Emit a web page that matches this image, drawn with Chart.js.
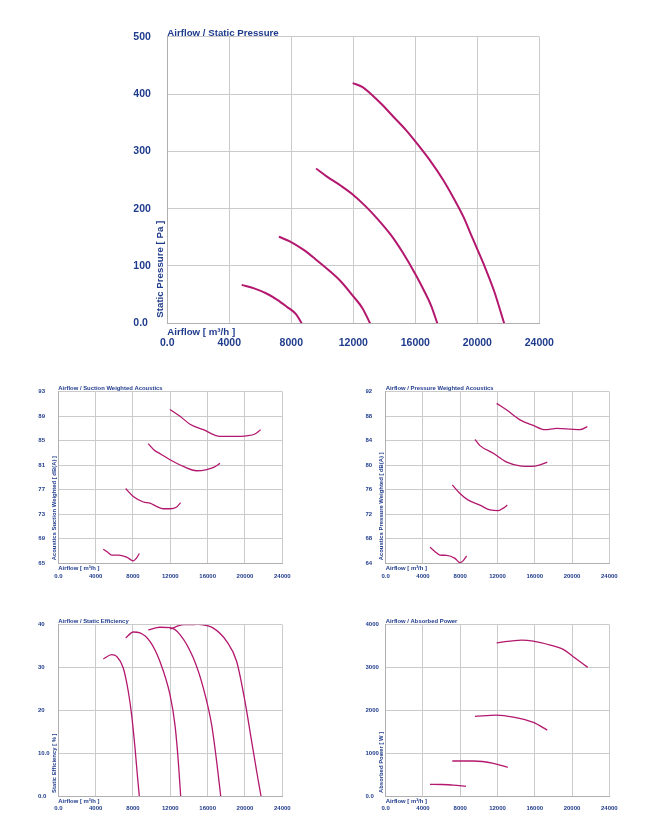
<!DOCTYPE html>
<html><head><meta charset="utf-8">
<script src="https://cdn.jsdelivr.net/npm/chart.js@4.4.1/dist/chart.umd.min.js"></script>
<style>
html,body{margin:0;padding:0;background:#fff;}
#wrap{position:relative;width:660px;height:826px;overflow:hidden;background:#fff;}
canvas{position:absolute;}
</style></head><body>
<div id="wrap">
<canvas id="cPressure" width="660" height="360" style="left:0;top:0"></canvas>
<canvas id="cSuction" width="330" height="215" style="left:0;top:370px"></canvas>
<canvas id="cPressAc" width="330" height="215" style="left:330px;top:370px"></canvas>
<canvas id="cEff" width="330" height="226" style="left:0;top:600px"></canvas>
<canvas id="cPower" width="330" height="226" style="left:330px;top:600px"></canvas>
</div>
<script>
// ---------- tick values / labels ----------
const flowTicks = [0, 4000, 8000, 12000, 16000, 20000, 24000];
const flowTickLabels = ['0.0', '4000', '8000', '12000', '16000', '20000', '24000'];
const pressureTicks = [0, 100, 200, 300, 400, 500];
const pressureTickLabels = ['0.0', '100', '200', '300', '400', '500'];
const suctionTicks = [65, 69, 73, 77, 81, 85, 89, 93];
const suctionTickLabels = ['65', '69', '73', '77', '81', '85', '89', '93'];
const pressAcTicks = [64, 68, 72, 76, 80, 84, 88, 92];
const pressAcTickLabels = ['64', '68', '72', '76', '80', '84', '88', '92'];
const effTicks = [0, 10, 20, 30, 40];
const effTickLabels = ['0.0', '10.0', '20', '30', '40'];
const powerTicks = [0, 1000, 2000, 3000, 4000];
const powerTickLabels = ['0.0', '1000', '2000', '3000', '4000'];

// ---------- Airflow / Static Pressure ----------
const spFlow1 = [4800, 5600, 6400, 7100, 7700, 8300, 8670];
const spVal1  = [67, 61, 52, 41, 29, 16, 0];
const spFlow2 = [7200, 7900, 8800, 9600, 10400, 11200, 12000, 12600, 13080];
const spVal2  = [151, 143, 128, 111, 93, 73, 47, 26, 0];
const spFlow3 = [9600, 10300, 11200, 12000, 12800, 13600, 14400, 15200, 16000, 16600, 17000, 17420];
const spVal3  = [270, 256, 240, 224, 204, 181, 155, 123, 86, 55, 32, 0];
const spFlow4 = [11960, 12600, 13100, 13800, 14600, 15400, 16100, 16900, 17800, 18500, 19100, 19700, 20400, 21100, 21730];
const spVal4  = [419, 412, 401, 383, 360, 337, 314, 286, 250, 217, 186, 148, 104, 55, 0];

// ---------- Airflow / Suction Weighted Acoustics ----------
const suFlow1 = [4820, 5300, 5720, 6430, 7330, 8040, 8350, 8680];
const suVal1  = [67.3, 66.8, 66.35, 66.35, 66.0, 65.4, 65.8, 66.6];
const suFlow2 = [7220, 8040, 9110, 9820, 10500, 11250, 11970, 12690, 13110];
const suVal2  = [77.2, 75.9, 75.0, 74.8, 74.3, 73.9, 73.9, 74.2, 74.9];
const suFlow3 = [9640, 10250, 11000, 11970, 13400, 14820, 15900, 16700, 17320];
const suVal3  = [84.5, 83.5, 82.8, 81.9, 80.8, 80.1, 80.3, 80.7, 81.3];
const suFlow4 = [11970, 13040, 14110, 15540, 17320, 18750, 20180, 21070, 21680];
const suVal4  = [90.1, 89.0, 87.7, 86.8, 85.7, 85.7, 85.8, 86.1, 86.8];

// ---------- Airflow / Pressure Weighted Acoustics ----------
const paFlow1 = [4755, 5300, 5830, 6540, 7440, 7970, 8300, 8690];
const paVal1  = [66.6, 65.9, 65.35, 65.3, 64.8, 64.1, 64.4, 65.2];
const paFlow2 = [7150, 7970, 8870, 10120, 11200, 12090, 12620, 13050];
const paVal2  = [76.8, 75.4, 74.3, 73.5, 72.7, 72.6, 73.0, 73.5];
const paFlow3 = [9580, 10120, 11550, 12990, 14410, 15670, 16560, 17340];
const paVal3  = [84.2, 83.2, 81.96, 80.5, 79.9, 79.8, 80.05, 80.5];
const paFlow4 = [11910, 12990, 14410, 15840, 17100, 18350, 19780, 20850, 21640];
const paVal4  = [90.1, 89.0, 87.4, 86.5, 85.8, 86.0, 85.9, 85.8, 86.3];

// ---------- Airflow / Static Efficiency ----------
const efFlow1 = [4820, 5720, 6250, 6960, 7500, 7860, 8220, 8470, 8680];
const efVal1  = [32.0, 33.0, 32.6, 29.9, 24.4, 18.9, 11.2, 4.9, 0];
const efFlow2 = [7220, 8040, 8750, 9820, 10890, 11970, 12500, 12860, 13110];
const efVal2  = [36.9, 38.3, 38.1, 36.1, 31.4, 23.6, 16.6, 8.0, 0];
const efFlow3 = [9640, 10890, 11970, 13040, 14470, 15540, 16430, 16970, 17400];
const efVal3  = [38.8, 39.4, 39.3, 37.7, 32.2, 25.2, 16.6, 8.0, 0];
const efFlow4 = [11970, 13400, 14820, 16610, 18040, 19110, 20000, 20720, 21320, 21720];
const efVal4  = [39.0, 40.0, 40.1, 39.2, 36.1, 31.4, 22.1, 12.7, 4.9, 0];

// ---------- Airflow / Absorbed Power ----------
const pwFlow1 = [4755, 6000, 7260, 8620];
const pwVal1  = [272, 268, 256, 226];
const pwFlow2 = [7150, 9400, 11550, 13100];
const pwVal2  = [816, 816, 762, 669];
const pwFlow3 = [9580, 11910, 13700, 15840, 17340];
const pwVal3  = [1858, 1888, 1841, 1717, 1538];
const pwFlow4 = [11910, 14600, 15840, 17660, 19060, 20130, 21680];
const pwVal4  = [3573, 3636, 3613, 3520, 3420, 3247, 3000];

// ---------- styling ----------
const TEXT = '#1f3b8c';
const CURVE = '#b3186e';
const GRID = '#cbcbcb';
const BORDER = '#b0b0b0';
const FAMILY = '"Liberation Sans", Arial, Helvetica, sans-serif';

const axisTextPlugin = {
  id: 'axisText',
  afterDraw(chart, args, o) {
    const ctx = chart.ctx, a = chart.chartArea;
    ctx.save();
    ctx.fillStyle = TEXT;
    ctx.font = o.font;
    ctx.textBaseline = 'alphabetic';
    ctx.textAlign = 'left';
    ctx.fillText(o.title, a.left, a.top + o.titleDy);
    ctx.fillText(o.xTitle, a.left, a.bottom + o.xTitleDy);
    ctx.translate(a.left + o.yTitleDx, a.bottom - o.yTitleStart);
    ctx.rotate(-Math.PI / 2);
    ctx.fillText(o.yTitle, 0, 0);
    ctx.restore();
  }
};

function build(id, o) {
  const canvas = document.getElementById(id);
  const W = canvas.width, H = canvas.height;
  const datasets = o.xs.map((xs, i) => ({
    data: xs.map((x, j) => ({ x: x, y: o.ys[i][j] })),
    borderColor: CURVE,
    borderWidth: o.lw,
    pointRadius: 0,
    fill: false,
    cubicInterpolationMode: 'monotone'
  }));
  const yW = o.area.left - o.labelLeft;
  const xH = o.xH;
  new Chart(canvas, {
    type: 'line',
    data: { datasets: datasets },
    options: {
      responsive: false,
      animation: false,
      devicePixelRatio: 1,
      events: [],
      layout: { padding: { left: o.labelLeft, top: o.area.top, right: W - o.area.right, bottom: H - o.area.bottom - xH } },
      plugins: { legend: { display: false }, tooltip: { enabled: false }, title: { display: false }, axisText: o.text },
      scales: {
        x: {
          type: 'linear', min: 0, max: 24000,
          afterFit(s) { s.height = xH; },
          afterBuildTicks(s) { s.ticks = flowTicks.map(v => ({ value: v })); },
          ticks: {
            callback: (v, i) => flowTickLabels[i],
            font: { family: FAMILY, size: o.tickSize, weight: 'bold' },
            color: TEXT, padding: o.xPad, maxRotation: 0, minRotation: 0, autoSkip: false
          },
          grid: { color: GRID, drawTicks: false, lineWidth: 1 },
          border: { color: BORDER, width: 1 }
        },
        y: {
          type: 'linear', min: o.yTicks[0], max: o.yTicks[o.yTicks.length - 1],
          afterFit(s) { s.width = yW; },
          afterBuildTicks(s) { s.ticks = o.yTicks.map(v => ({ value: v })); },
          ticks: {
            callback: (v, i) => o.yLabels[i],
            font: { family: FAMILY, size: o.tickSize, weight: 'bold' },
            color: TEXT, padding: 0, crossAlign: 'far', autoSkip: false
          },
          grid: { color: GRID, drawTicks: false, lineWidth: 1 },
          border: { color: BORDER, width: 1 }
        }
      }
    },
    plugins: [axisTextPlugin]
  });
}

const bigText = (title, yTitle) => ({
  font: 'bold 9.7px ' + FAMILY, title: title, xTitle: 'Airflow [ m³/h ]', yTitle: yTitle,
  titleDy: -1, xTitleDy: 11.7, yTitleDx: -4, yTitleStart: 5.6
});
const smallText = (title, yTitle) => ({
  font: 'bold 5.9px ' + FAMILY, title: title, xTitle: 'Airflow [ m³/h ]', yTitle: yTitle,
  titleDy: -1.3, xTitleDy: 6.6, yTitleDx: -2.5, yTitleStart: 3
});

build('cPressure', {
  xs: [spFlow1, spFlow2, spFlow3, spFlow4], ys: [spVal1, spVal2, spVal3, spVal4],
  yTicks: pressureTicks, yLabels: pressureTickLabels,
  area: { left: 167.3, right: 539.3, top: 36.7, bottom: 323.3 }, labelLeft: 133.3,
  xH: 30, xPad: 13.7, tickSize: 10.5, lw: 2,
  text: bigText('Airflow / Static Pressure', 'Static Pressure [ Pa ]')
});
build('cSuction', {
  xs: [suFlow1, suFlow2, suFlow3, suFlow4], ys: [suVal1, suVal2, suVal3, suVal4],
  yTicks: suctionTicks, yLabels: suctionTickLabels,
  area: { left: 58.3, right: 282.3, top: 21.7, bottom: 193.3 }, labelLeft: 38.3,
  xH: 20, xPad: 9.8, tickSize: 6, lw: 1.3,
  text: smallText('Airflow / Suction Weighted Acoustics', 'Acoustics Suction Weighted [ dB(A) ]')
});
build('cPressAc', {
  xs: [paFlow1, paFlow2, paFlow3, paFlow4], ys: [paVal1, paVal2, paVal3, paVal4],
  yTicks: pressAcTicks, yLabels: pressAcTickLabels,
  area: { left: 55.7, right: 279.3, top: 21.7, bottom: 193.3 }, labelLeft: 35.5,
  xH: 20, xPad: 9.8, tickSize: 6, lw: 1.3,
  text: smallText('Airflow / Pressure Weighted Acoustics', 'Acoustics Pressure Weighted [ dB(A) ]')
});
build('cEff', {
  xs: [efFlow1, efFlow2, efFlow3, efFlow4], ys: [efVal1, efVal2, efVal3, efVal4],
  yTicks: effTicks, yLabels: effTickLabels,
  area: { left: 58.3, right: 282.3, top: 24.7, bottom: 196 }, labelLeft: 38,
  xH: 20, xPad: 8.7, tickSize: 6, lw: 1.3,
  text: smallText('Airflow / Static Efficiency', 'Static Efficiency [ % ]')
});
build('cPower', {
  xs: [pwFlow1, pwFlow2, pwFlow3, pwFlow4], ys: [pwVal1, pwVal2, pwVal3, pwVal4],
  yTicks: powerTicks, yLabels: powerTickLabels,
  area: { left: 55.7, right: 279.3, top: 24.5, bottom: 196 }, labelLeft: 35.5,
  xH: 20, xPad: 8.7, tickSize: 6, lw: 1.3,
  text: smallText('Airflow / Absorbed Power', 'Absorbed Power [ W ]')
});
</script>
</body></html>
